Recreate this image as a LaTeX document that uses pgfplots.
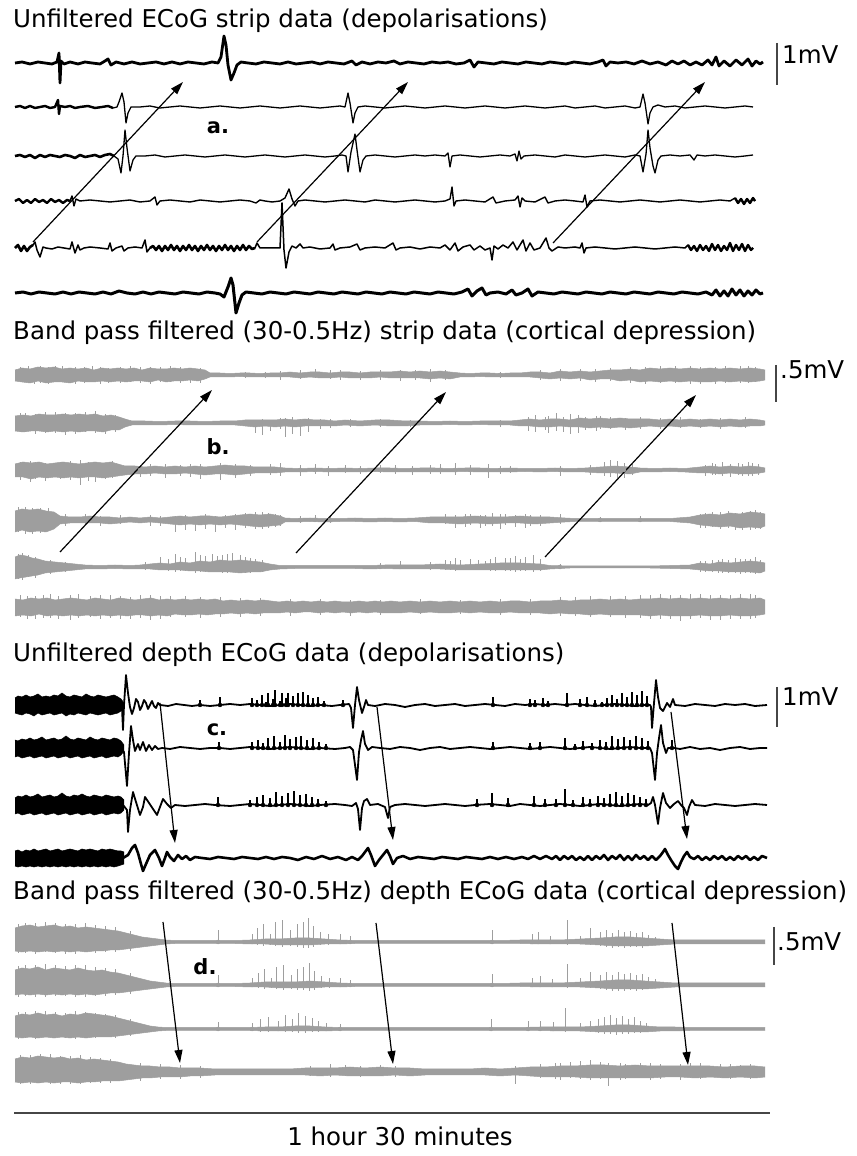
\documentclass[border=0pt]{standalone}
\usepackage{fontspec}
\setmainfont{DejaVu Sans}
\usepackage{pgfplots}
\pgfplotsset{compat=1.18}
\usepackage{pgfplotstable}
\usepgfplotslibrary{fillbetween}
\usetikzlibrary{arrows.meta}
\definecolor{tg}{RGB}{158,158,158}
\definecolor{barc}{RGB}{70,70,70}
\newcommand{\fs}{\fontsize{24.5bp}{29bp}\selectfont}
\newcommand{\fl}{\fontsize{21bp}{25bp}\selectfont\bfseries}

% ---------- panel a (unfiltered strip) ----------
\pgfplotstableread[row sep=\\]{x y\\
15 0\\22 1\\30 -1\\38 1\\45 0\\52 -1\\57 1\\59 10\\60 -20\\61 2\\64 -1\\70 1\\78 -1\\85 1\\92 0\\100 -1\\105 2\\108 4\\111 -2\\116 1\\124 -1\\132 1\\140 -1\\148 0\\156 1\\164 -1\\172 1\\180 -1\\188 1\\196 0\\204 -1\\212 1\\218 0\\221 6\\224 27\\226 18\\228 -2\\231 -17\\234 -10\\237 -2\\241 1\\248 0\\256 -1\\264 1\\272 0\\280 -1\\288 1\\296 -1\\304 0\\312 1\\320 -1\\328 1\\336 0\\344 -1\\352 2\\356 -2\\362 1\\370 -1\\378 1\\386 0\\394 2\\400 -1\\408 1\\416 0\\424 -1\\432 1\\440 0\\448 1\\456 -1\\464 0\\470 3\\474 -4\\478 1\\486 0\\494 -1\\502 1\\510 0\\518 -1\\526 1\\534 0\\542 -1\\550 1\\558 0\\566 -1\\574 1\\582 0\\590 -1\\598 1\\603 3\\606 -3\\610 1\\618 0\\626 1\\634 -1\\642 2\\650 -1\\658 1\\666 -2\\672 2\\678 -1\\684 2\\690 -2\\696 1\\702 -2\\708 3\\712 -2\\716 6\\719 -3\\724 2\\730 -3\\736 3\\742 -2\\748 4\\752 -3\\756 2\\760 -1\\763 1\\
}\aone
\pgfplotstableread[row sep=\\]{x y\\
15 0\\20 1\\25 -1\\30 1\\35 -1\\40 0\\45 1\\50 -1\\55 0\\58 7\\59 -7\\60 1\\65 0\\70 1\\75 -1\\80 0\\88 1\\95 -1\\102 0\\108 1\\113 -1\\117 0\\119 5\\122 14\\124 5\\126 -16\\128 -6\\131 0\\140 0\\150 1\\160 -1\\170 0\\180 1\\190 0\\200 -1\\210 0\\220 1\\230 0\\240 -1\\250 0\\260 1\\270 0\\280 -1\\290 0\\300 1\\310 0\\320 -1\\330 0\\340 1\\345 0\\348 14\\350 4\\353 -16\\355 -6\\358 0\\365 1\\375 0\\385 -1\\395 0\\405 1\\415 0\\425 -1\\435 0\\445 1\\455 0\\465 -1\\475 0\\485 1\\495 0\\505 -1\\515 0\\525 1\\535 0\\545 -1\\555 0\\565 1\\575 -1\\585 0\\595 1\\605 -1\\615 0\\625 1\\635 -1\\640 0\\643 13\\645 4\\648 -17\\650 -6\\653 0\\658 2\\665 0\\675 1\\685 -1\\695 0\\705 1\\715 0\\725 -1\\735 0\\745 1\\753 0\\
}\atwo
\pgfplotstableread[row sep=\\]{x y\\
15 0\\20 1\\25 -1\\30 1\\35 -2\\40 1\\45 -1\\50 1\\55 0\\60 -1\\65 1\\70 0\\75 -2\\80 1\\85 -1\\90 0\\95 1\\100 -1\\105 1\\110 2\\114 0\\118 -3\\121 -17\\123 0\\125 26\\127 8\\130 -15\\133 -4\\136 0\\145 0\\155 1\\165 -1\\175 0\\185 1\\195 0\\205 -1\\215 0\\225 1\\235 0\\245 -1\\255 0\\265 1\\275 0\\285 -1\\295 0\\305 1\\315 0\\325 -1\\335 0\\342 1\\346 0\\348 -16\\351 4\\355 22\\357 6\\360 -16\\363 -4\\366 0\\375 1\\385 0\\395 -1\\405 0\\415 1\\425 0\\435 1\\445 0\\448 3\\450 -11\\452 0\\460 1\\470 0\\480 -1\\490 0\\500 1\\510 0\\515 2\\517 -5\\519 5\\521 -3\\524 0\\535 1\\545 0\\555 -1\\565 1\\575 0\\585 -1\\595 0\\605 1\\615 0\\625 -1\\635 1\\640 0\\643 -16\\646 2\\648 26\\650 8\\653 -10\\655 -17\\658 -4\\661 0\\670 1\\680 0\\690 1\\694 -4\\697 1\\705 0\\715 1\\725 0\\735 -1\\745 0\\753 1\\
}\athree
\pgfplotstableread[row sep=\\]{x y\\
15 0\\19 2\\23 -2\\27 1\\31 -2\\35 2\\39 -1\\43 1\\47 -2\\51 2\\55 -1\\59 1\\63 -2\\67 1\\70 0\\72 5\\74 -5\\76 2\\80 0\\90 1\\100 0\\110 -1\\120 0\\130 1\\140 -1\\150 0\\155 4\\157 -4\\160 0\\170 1\\180 0\\190 -1\\200 1\\210 0\\220 -1\\230 0\\240 1\\250 0\\256 -2\\260 1\\265 0\\272 -1\\280 0\\285 3\\289 12\\292 2\\295 -5\\298 0\\305 1\\315 0\\325 -1\\335 0\\345 1\\355 0\\365 -1\\375 1\\385 0\\395 -1\\405 0\\415 1\\425 0\\435 -1\\445 0\\450 2\\452 14\\454 -5\\456 0\\465 1\\475 0\\485 -1\\493 4\\496 -2\\505 0\\515 1\\518 5\\520 -6\\522 3\\525 0\\535 -1\\545 4\\548 -2\\555 0\\565 1\\575 0\\583 -1\\585 6\\587 -6\\590 0\\600 1\\610 0\\620 -1\\630 0\\640 1\\650 0\\660 -1\\670 0\\680 1\\690 0\\700 -1\\710 0\\720 1\\730 0\\735 3\\738 -2\\741 2\\744 -3\\747 2\\750 -2\\753 3\\755 0\\
}\afour
\pgfplotstableread[row sep=\\]{x y\\
15 0\\18 3\\21 -3\\24 2\\27 -3\\30 1\\33 3\\35 6\\37 -2\\40 -9\\43 1\\46 0\\52 -1\\58 1\\64 0\\70 -1\\72 6\\75 -5\\78 3\\80 -2\\84 0\\90 1\\100 0\\108 -1\\110 5\\112 -3\\116 0\\122 2\\124 -3\\128 0\\135 1\\142 0\\145 8\\147 -4\\150 0\\153 2\\156 -2\\159 2\\162 -3\\165 2\\168 -2\\171 3\\174 -2\\177 2\\180 -3\\183 2\\186 -2\\189 3\\192 -2\\195 2\\198 -3\\201 2\\204 -2\\207 3\\210 -2\\213 2\\216 -3\\219 2\\222 -2\\225 3\\228 -2\\231 2\\234 -3\\237 2\\240 -2\\243 3\\246 -2\\249 2\\252 -1\\255 0\\257 5\\260 0\\270 0\\280 0\\282 45\\284 -2\\286 -20\\289 -4\\292 2\\296 0\\300 4\\303 0\\310 1\\320 -1\\330 0\\333 4\\335 -2\\340 0\\350 1\\357 4\\360 -2\\365 0\\375 1\\385 0\\393 5\\396 -2\\400 0\\410 1\\420 -1\\430 1\\440 0\\445 3\\450 -2\\455 5\\458 -3\\463 1\\470 3\\474 -2\\480 2\\485 -2\\490 0\\492 -12\\494 2\\498 -1\\503 3\\508 0\\513 6\\517 -2\\523 8\\526 -3\\530 5\\534 -2\\540 0\\546 10\\549 0\\552 -3\\558 1\\565 0\\575 1\\580 0\\582 5\\584 -5\\586 0\\595 1\\605 0\\615 -1\\625 0\\635 1\\645 0\\655 -1\\665 0\\675 1\\685 0\\688 3\\691 -2\\694 2\\697 -3\\700 3\\703 -2\\706 2\\709 -3\\712 4\\715 -2\\718 3\\721 -3\\724 2\\727 -2\\730 5\\733 -3\\736 3\\739 -2\\742 4\\745 -3\\748 3\\751 -2\\753 0\\
}\afive
\pgfplotstableread[row sep=\\]{x y\\
15 0\\23 1\\31 -1\\39 1\\47 0\\55 -1\\63 1\\71 -1\\79 1\\87 0\\95 -1\\103 1\\111 -1\\119 2\\127 0\\135 -1\\143 1\\151 -1\\159 1\\167 0\\175 -1\\183 1\\191 0\\199 -1\\207 1\\215 0\\220 -1\\224 -4\\228 6\\231 15\\233 8\\236 -20\\239 -10\\242 -2\\246 1\\254 0\\262 -1\\270 1\\278 0\\286 -1\\294 1\\302 0\\310 -1\\318 1\\326 0\\334 -1\\342 1\\350 0\\358 -1\\366 1\\374 0\\382 -1\\390 1\\398 0\\406 -1\\414 1\\422 0\\430 -1\\438 1\\446 0\\454 -1\\462 1\\468 4\\472 -3\\477 2\\482 5\\486 -2\\490 0\\498 1\\506 -1\\512 3\\516 -2\\522 0\\528 4\\532 -3\\538 1\\546 0\\554 -1\\562 1\\570 0\\578 -1\\586 1\\594 0\\602 -1\\610 1\\618 0\\626 -1\\634 1\\642 0\\650 -1\\658 1\\666 0\\674 -1\\682 1\\690 0\\698 -1\\706 1\\712 -2\\716 3\\720 -3\\724 2\\728 -3\\732 4\\736 -2\\740 3\\744 -3\\748 2\\752 -2\\756 3\\760 -1\\763 0\\
}\asix

% ---------- panel b (band pass strip) ----------
\pgfplotstableread[row sep=\\]{x u l\\
15 5 -6\\22 7 -7\\30 6 -8\\38 8 -6\\46 7 -8\\54 8 -7\\62 6 -7\\70 7 -8\\78 6 -6\\86 7 -7\\94 5 -7\\102 7 -6\\110 6 -7\\118 7 -6\\126 6 -7\\134 7 -6\\142 5 -6\\150 7 -7\\158 6 -5\\166 6 -7\\174 7 -6\\182 6 -6\\190 7 -5\\198 6 -6\\205 5 -4\\210 2 -2\\220 2 -2\\230 1.5 -2\\240 2 -1.5\\250 2 -2\\260 1.5 -2\\270 2 -2\\280 2 -2\\290 3 -2\\300 2 -3\\310 3 -2\\320 3 -3\\330 2 -3\\340 3 -2\\350 3 -3\\360 2 -3\\370 3 -3\\380 3 -2\\390 3 -3\\400 4 -3\\410 3 -3\\420 4 -3\\430 3 -4\\440 4 -3\\450 3 -4\\460 2 -2\\470 1.5 -2\\480 2 -1.5\\490 2 -2\\500 1.5 -2\\510 2 -2\\520 2 -2\\530 3 -2\\540 3 -3\\550 2 -4\\560 4 -3\\570 3 -4\\580 4 -3\\590 3 -5\\600 4 -4\\610 5 -4\\620 5 -6\\630 6 -5\\640 5 -7\\650 7 -6\\660 6 -7\\670 7 -6\\680 6 -7\\690 7 -6\\700 6 -7\\710 7 -7\\720 6 -6\\730 7 -7\\740 6 -6\\750 7 -7\\760 6 -6\\765 5 -5\\
}\bone
\pgfplotstableread[row sep=\\]{x p m\\
20 8 7\\28 9 8\\34 7 9\\40 9 8\\48 8 9\\55 9 6\\62 9 7\\68 7 8\\75 8 9\\84 8 8\\92 9 7\\100 8 9\\108 7 8\\120 8 8\\130 9 7\\140 8 8\\150 8 9\\160 8 7\\170 9 7\\180 8 8\\190 7 8\\200 7 8\\245 3 3\\265 3 3\\280 4 5\\300 5 4\\315 6 3\\330 5 4\\340 5 5\\360 4 5\\380 5 5\\400 5 6\\415 5 5\\430 6 7\\445 5 5\\500 3 3\\540 5 5\\560 6 6\\580 6 6\\595 6 7\\610 7 6\\630 8 8\\645 8 9\\660 9 8\\675 9 8\\690 9 9\\700 8 9\\715 8 9\\725 9 8\\740 9 8\\748 9 8\\755 8 7\\
}\bones
\pgfplotstableread[row sep=\\]{x u l\\
15 7 -8\\23 8 -9\\31 7 -8\\39 9 -8\\47 8 -9\\55 8 -8\\63 9 -9\\71 8 -8\\79 9 -9\\87 8 -8\\95 9 -8\\103 7 -9\\111 8 -7\\119 6 -7\\125 4 -4\\132 2 -2\\145 2 -2\\160 1.5 -2\\175 2 -1.5\\190 2 -2\\205 1.5 -2\\220 2 -2\\235 2 -2\\245 3 -3\\255 3 -4\\265 3 -3\\275 3 -4\\285 4 -3\\295 3 -4\\305 4 -3\\315 3 -3\\325 3 -3\\335 2 -3\\345 3 -2\\360 2 -3\\375 3 -2\\390 3 -3\\405 2 -3\\420 2 -2\\435 1.5 -2\\450 2 -1.5\\465 1.5 -2\\480 2 -1.5\\495 2 -2\\510 2 -2\\520 3 -3\\530 4 -3\\540 3 -4\\550 4 -4\\560 4 -3\\570 3 -4\\580 5 -4\\590 4 -5\\600 5 -4\\610 4 -5\\620 5 -4\\630 4 -5\\640 4 -4\\650 4 -3\\660 3 -4\\670 4 -3\\680 3 -4\\690 4 -3\\700 3 -4\\710 4 -3\\720 3 -4\\730 4 -3\\740 3 -4\\750 4 -3\\760 3 -3\\765 2 -2\\
}\btwo
\pgfplotstableread[row sep=\\]{x p m\\
20 10 9\\25 10 9\\35 9 11\\45 11 10\\55 11 10\\65 10 12\\75 10 11\\85 11 9\\95 12 10\\105 9 11\\115 8 9\\255 3 10\\262 4 12\\270 3 8\\280 5 6\\285 5 14\\292 6 11\\300 4 13\\308 5 9\\320 4 6\\330 4 5\\350 4 4\\380 4 4\\410 3 4\\500 3 4\\528 6 8\\535 8 9\\545 6 7\\548 7 10\\556 10 8\\563 6 9\\570 9 11\\578 8 10\\585 6 7\\596 7 8\\600 7 6\\610 6 6\\625 5 7\\640 6 6\\660 5 6\\680 6 5\\700 4 5\\720 5 6\\745 6 5\\
}\btwos
\pgfplotstableread[row sep=\\]{x u l\\
15 6 -7\\23 8 -7\\31 7 -9\\39 8 -7\\47 6 -8\\55 7 -7\\63 8 -8\\71 7 -7\\79 6 -8\\87 7 -7\\95 8 -7\\103 7 -8\\111 8 -7\\118 6 -6\\125 4 -5\\135 4 -4\\145 3 -4\\155 4 -3\\165 3 -4\\175 4 -4\\185 3 -3\\195 4 -4\\205 3 -5\\215 4 -4\\225 5 -4\\235 4 -5\\245 4 -4\\255 3 -3\\265 3 -3\\275 3 -3\\285 2 -2\\300 1.5 -2\\315 2 -1.5\\330 1.5 -2\\345 2 -2\\360 1.5 -2\\375 2 -1.5\\390 2 -2\\405 1.5 -2\\420 2 -2\\435 2 -2\\450 1.5 -2\\465 2 -1.5\\480 2 -2\\495 1.5 -2\\510 2 -2\\525 1.5 -1.5\\540 1.5 -2\\555 2 -1.5\\570 1.5 -2\\585 2 -2\\600 3 -3\\615 4 -3\\630 3 -4\\640 2 -2\\655 1.5 -2\\670 2 -1.5\\685 1.5 -2\\700 3 -3\\710 4 -3\\720 3 -4\\730 4 -3\\740 3 -4\\750 4 -4\\760 3 -3\\765 2 -2\\
}\bthree
\pgfplotstableread[row sep=\\]{x p m\\
20 8 10\\30 9 12\\35 8 9\\45 7 11\\60 8 9\\70 9 10\\80 10 15\\88 8 11\\95 7 12\\105 6 9\\112 9 8\\140 5 7\\150 6 6\\165 6 8\\180 5 6\\190 6 7\\200 6 9\\220 7 10\\235 6 8\\250 5 6\\270 6 5\\280 7 6\\300 5 6\\315 6 4\\328 4 6\\345 5 3\\360 4 4\\380 5 3\\395 5 4\\412 4 5\\430 5 4\\440 6 4\\455 7 5\\470 5 5\\488 6 8\\500 4 4\\510 4 3\\560 4 6\\590 5 5\\604 8 6\\610 10 7\\617 9 8\\624 7 8\\632 6 5\\705 5 6\\712 7 5\\715 6 5\\722 8 6\\730 6 7\\738 7 5\\742 6 6\\748 8 6\\752 7 6\\758 6 5\\
}\bthrees
\pgfplotstableread[row sep=\\]{x u l\\
15 9 -12\\22 11 -10\\30 10 -12\\38 11 -11\\46 9 -12\\54 8 -9\\60 4 -4\\70 3 -3\\80 3 -3\\90 4 -3\\100 3 -3\\110 3 -4\\120 2 -3\\130 3 -2\\140 2 -3\\150 3 -2\\160 2 -3\\170 3 -4\\180 4 -5\\190 3 -4\\200 4 -5\\210 4 -4\\220 3 -5\\230 4 -4\\240 5 -5\\250 6 -6\\260 5 -7\\270 6 -6\\280 4 -5\\285 2 -2\\295 1.5 -2\\310 2 -1.5\\325 1.5 -2\\340 1.5 -1.5\\355 2 -1.5\\370 1.5 -2\\385 2 -1.5\\400 1.5 -2\\415 2 -1.5\\430 3 -3\\445 3 -3\\460 3 -4\\475 4 -3\\490 3 -4\\505 3 -3\\520 4 -3\\535 3 -4\\550 3 -3\\565 2 -2\\575 1.5 -1.5\\590 1.5 -1.5\\610 1.5 -1.5\\630 1.5 -1.5\\650 1.5 -1.5\\670 1.5 -1.5\\690 3 -3\\700 5 -5\\710 6 -6\\720 5 -7\\730 7 -6\\740 6 -8\\750 8 -7\\760 7 -8\\765 6 -6\\
}\bfour
\pgfplotstableread[row sep=\\]{x p m\\
18 13 12\\25 13 14\\32 12 14\\40 12 13\\48 12 11\\65 6 6\\85 6 5\\100 4 6\\120 5 4\\150 5 6\\160 4 6\\175 4 12\\185 5 10\\195 3 11\\205 6 9\\215 4 12\\225 5 8\\235 6 10\\245 7 8\\255 8 9\\262 8 9\\268 7 8\\275 6 7\\280 5 6\\300 4 3\\315 5 2\\330 5 3\\445 6 4\\455 5 8\\465 6 7\\470 6 5\\480 5 8\\485 5 6\\492 7 6\\500 6 9\\505 6 5\\515 5 7\\525 6 8\\530 5 6\\540 5 6\\560 6 4\\600 3 2\\640 4 2\\700 6 8\\705 7 8\\712 8 7\\720 8 9\\728 9 8\\735 7 10\\742 8 10\\750 9 10\\755 10 9\\760 8 9\\
}\bfours
\pgfplotstableread[row sep=\\]{x u l\\
15 10 -12\\20 12 -11\\26 11 -10\\32 9 -9\\38 8 -8\\45 6 -6\\55 5 -5\\65 4 -4\\75 3 -3\\85 2 -2\\100 1.5 -2\\115 2 -1.5\\130 1.5 -2\\140 2 -2\\150 3 -2\\160 4 -3\\170 3 -3\\180 5 -3\\190 4 -4\\200 6 -4\\210 5 -5\\220 7 -5\\230 6 -5\\240 7 -6\\250 6 -5\\260 5 -5\\270 3 -3\\280 1.5 -2\\295 1.5 -1.5\\310 1.5 -1.5\\325 1.5 -1.5\\340 1.5 -1.5\\355 1.5 -1.5\\370 1.5 -2\\385 2 -1.5\\400 2 -2\\420 2 -2\\440 3 -2\\460 2 -3\\480 3 -3\\500 4 -3\\520 4 -3\\540 3 -3\\550 1.5 -2\\570 1 -1\\590 1 -1\\610 1 -1\\630 1 -1\\650 1 -1\\670 1.5 -1.5\\690 2 -2\\700 4 -3\\710 3 -4\\720 5 -4\\730 4 -5\\740 5 -5\\750 6 -5\\760 5 -6\\765 4 -4\\
}\bfive
\pgfplotstableread[row sep=\\]{x p m\\
18 13 12\\22 14 13\\28 12 10\\35 10 11\\50 7 7\\65 5 5\\145 5 3\\160 10 3\\168 8 4\\175 13 5\\180 10 4\\185 9 4\\195 15 6\\200 12 5\\205 11 5\\212 13 5\\217 11 5\\222 12 6\\227 13 6\\232 14 5\\240 12 5\\245 10 6\\250 9 6\\255 8 5\\262 7 5\\380 4 2\\400 6 2\\430 5 3\\445 7 3\\450 6 3\\455 9 4\\460 7 3\\470 8 3\\478 7 3\\485 6 3\\490 8 4\\495 10 4\\505 9 4\\510 9 4\\515 11 5\\520 8 4\\525 10 4\\533 12 5\\540 8 4\\560 3 2\\700 6 5\\705 6 5\\712 7 5\\718 7 6\\722 8 6\\728 7 6\\735 9 6\\740 8 7\\745 8 6\\750 8 6\\755 10 7\\760 7 6\\
}\bfives
\pgfplotstableread[row sep=\\]{x u l\\
15 8 -9\\23 7 -8\\31 9 -9\\39 8 -7\\47 9 -9\\55 7 -8\\63 8 -9\\71 9 -8\\79 8 -9\\87 7 -8\\95 9 -9\\103 8 -8\\111 7 -9\\119 9 -8\\127 8 -9\\135 7 -8\\143 8 -8\\151 9 -9\\159 7 -8\\167 8 -9\\175 7 -7\\183 8 -8\\191 7 -8\\199 8 -7\\207 7 -8\\215 8 -7\\223 6 -7\\231 7 -6\\239 6 -7\\247 7 -6\\255 6 -7\\263 7 -6\\271 6 -6\\279 5 -6\\287 6 -5\\295 5 -6\\303 6 -5\\311 5 -5\\319 6 -6\\327 5 -5\\335 6 -6\\343 5 -5\\351 5 -6\\359 6 -5\\367 5 -6\\375 6 -5\\383 5 -6\\391 6 -6\\400 5 -6\\410 6 -5\\420 5 -6\\430 6 -5\\440 5 -6\\450 6 -6\\460 5 -5\\470 6 -6\\480 5 -5\\490 6 -6\\500 5 -6\\510 6 -5\\520 6 -6\\530 5 -6\\540 6 -6\\550 6 -7\\560 7 -6\\570 6 -7\\580 7 -7\\590 7 -8\\600 8 -7\\610 7 -8\\620 8 -8\\630 7 -8\\640 8 -8\\650 8 -9\\660 9 -8\\670 8 -9\\680 9 -9\\690 8 -9\\700 9 -8\\710 8 -9\\720 9 -9\\730 8 -8\\740 9 -9\\750 8 -9\\760 9 -8\\765 7 -7\\
}\bsix
\pgfplotstableread[row sep=\\]{x p m\\
20 12 10\\27 11 12\\35 11 12\\43 12 11\\50 13 11\\58 11 12\\70 12 13\\78 13 11\\90 11 10\\100 12 12\\110 12 11\\120 11 12\\130 10 12\\140 12 11\\150 12 13\\160 11 12\\170 11 10\\185 11 10\\200 10 11\\220 10 10\\240 9 10\\260 9 9\\290 8 9\\320 8 8\\350 7 9\\380 7 8\\420 8 7\\460 7 7\\500 8 8\\530 8 8\\560 10 9\\575 10 9\\590 11 10\\610 11 10\\625 11 11\\640 12 11\\650 12 12\\660 13 12\\670 12 12\\680 12 14\\690 13 12\\700 13 11\\710 12 13\\720 12 13\\730 12 12\\740 13 12\\750 13 12\\755 12 11\\
}\bsixs

% ---------- panel c (unfiltered depth) ----------
\pgfplotstableread[row sep=\\]{x u1 l1 u2 l2 u3 l3 u4 l4\\
15 7 -8 8 -9 7 -9 7 -8\\18 9 -9 7 -8 9 -8 8 -9\\22 8 -10 9 -10 8 -10 6 -8\\26 10 -8 8 -9 10 -9 8 -9\\30 8 -9 10 -8 8 -8 7 -8\\34 9 -11 8 -10 9 -10 9 -9\\38 11 -8 9 -9 11 -9 7 -8\\42 8 -10 11 -8 8 -8 8 -9\\46 9 -9 8 -10 9 -10 9 -8\\50 8 -8 9 -9 10 -9 7 -9\\54 10 -10 10 -8 8 -8 8 -8\\58 9 -9 8 -10 9 -10 9 -9\\62 12 -8 9 -9 12 -9 7 -8\\66 9 -11 12 -8 9 -8 8 -9\\70 8 -9 9 -10 8 -10 9 -8\\74 10 -10 8 -9 10 -9 8 -9\\78 9 -8 10 -8 9 -8 7 -8\\82 8 -9 9 -10 11 -10 9 -9\\86 11 -10 8 -9 9 -9 8 -8\\90 9 -8 11 -8 8 -8 9 -9\\94 8 -9 9 -10 10 -10 8 -8\\98 10 -10 8 -9 9 -9 7 -9\\102 9 -9 10 -8 8 -8 9 -8\\106 8 -8 9 -10 10 -10 8 -9\\110 9 -10 8 -9 9 -9 9 -8\\114 10 -9 10 -8 8 -8 8 -9\\118 8 -8 9 -9 9 -9 7 -8\\121 6 -6 7 -7 8 -8 7 -7\\124 2 -2 3 -3 5 -5 6 -6\\
}\cband
\pgfplotstableread[row sep=\\]{x y\\
120 0\\122 -3\\123 -25\\124 0\\126 30\\128 12\\130 -2\\132 -9\\134 -3\\136 6\\138 3\\140 -5\\142 -1\\144 5\\146 2\\148 -4\\150 0\\152 4\\154 -1\\156 -3\\158 2\\160 0\\168 -1\\176 1\\184 0\\192 -1\\200 0\\210 -1\\220 0\\230 1\\240 0\\250 1\\260 0\\270 -1\\280 0\\290 1\\300 0\\310 -1\\320 0\\332 -1\\340 0\\349 1\\351 -3\\353 -23\\355 0\\357 18\\359 5\\362 -8\\364 -2\\366 5\\368 0\\375 -1\\385 1\\395 0\\405 -2\\415 0\\425 1\\435 -1\\445 0\\455 1\\465 -1\\475 0\\485 1\\495 0\\505 -1\\515 1\\525 0\\535 1\\545 0\\555 1\\565 0\\575 1\\585 0\\595 -1\\605 0\\615 1\\625 0\\635 -1\\645 0\\650 0\\651 -2\\652 -23\\654 2\\656 25\\658 8\\660 -3\\663 -6\\667 2\\670 -2\\673 6\\675 0\\685 -1\\695 1\\705 0\\715 -1\\725 1\\735 0\\745 1\\755 -1\\767 0\\
}\cone
\pgfplotstableread[row sep=\\]{x p m\\
200 5 1\\220 8 1\\252 7 1\\257 5 1\\262 10 1\\266 3 1\\268 12 1\\273 6 1\\275 15 1\\280 4 1\\282 12 1\\286 7 1\\288 12 1\\293 9 1\\298 12 1\\303 13 1\\308 10 1\\313 7 1\\318 8 1\\324 4 1\\343 5 1\\493 8 1\\530 6 1\\535 5 1\\543 7 1\\548 4 1\\567 12 1\\580 6 1\\587 8 1\\595 5 1\\602 3 1\\607 7 1\\612 10 1\\617 6 1\\622 12 1\\627 8 1\\632 13 1\\637 10 1\\642 14 1\\647 9 1\\
}\cones
\pgfplotstableread[row sep=\\]{x y\\
120 0\\124 -4\\127 -38\\129 -5\\131 22\\133 8\\135 -3\\138 4\\140 -2\\143 6\\146 -3\\149 3\\152 -2\\155 2\\158 -1\\162 0\\170 -1\\180 1\\190 0\\200 -1\\210 0\\220 0\\230 -1\\240 0\\250 1\\260 0\\270 -1\\280 0\\290 1\\300 0\\310 -1\\320 0\\335 -1\\345 0\\350 1\\353 -2\\357 -32\\359 -4\\361 8\\363 17\\365 4\\368 -2\\372 1\\380 0\\390 -1\\400 1\\410 0\\420 -2\\430 0\\440 1\\450 -1\\460 0\\470 1\\480 0\\490 -1\\500 0\\510 1\\520 0\\530 -1\\540 0\\550 1\\560 0\\570 -1\\580 0\\590 1\\600 0\\610 -1\\620 0\\630 1\\640 0\\650 0\\652 -5\\655 -32\\657 -5\\659 10\\661 23\\663 5\\666 -5\\668 0\\674 0\\680 -1\\690 1\\700 -1\\710 0\\720 -2\\730 0\\740 1\\750 -1\\760 0\\767 0\\
}\ctwo
\pgfplotstableread[row sep=\\]{x p m\\
219 6 1\\252 6 1\\258 8 1\\263 5 1\\268 10 1\\274 12 1\\280 6 1\\285 13 1\\290 9 1\\296 11 1\\301 12 1\\307 8 1\\313 10 1\\319 6 1\\326 4 1\\493 6 1\\530 5 1\\540 6 1\\565 10 1\\575 4 1\\583 7 1\\592 5 1\\600 8 1\\606 6 1\\612 12 1\\618 9 1\\624 11 1\\630 8 1\\636 12 1\\642 10 1\\648 7 1\\672 8 1\\
}\ctwos
\pgfplotstableread[row sep=\\]{x y\\
123 0\\127 -5\\128 -27\\130 -5\\133 13\\136 3\\140 -10\\143 -2\\145 8\\149 2\\153 -4\\157 -10\\160 -2\\163 6\\167 1\\171 -3\\175 0\\185 -1\\195 0\\205 1\\215 0\\230 -1\\240 0\\250 1\\260 0\\270 -1\\280 0\\290 1\\300 0\\310 -1\\320 0\\335 1\\345 0\\352 -1\\356 2\\358 -4\\360 -25\\362 -3\\364 4\\367 6\\370 0\\378 1\\385 -2\\388 -13\\390 -2\\395 0\\405 1\\415 0\\425 -1\\435 0\\445 1\\455 0\\465 -1\\475 0\\490 1\\500 0\\510 -1\\520 1\\530 0\\540 -1\\550 0\\560 1\\570 0\\580 -1\\590 0\\600 1\\610 0\\620 -1\\630 0\\640 1\\648 0\\651 2\\653 8\\655 0\\658 -19\\660 -3\\663 12\\666 2\\670 -3\\674 1\\678 4\\681 0\\684 -3\\687 -10\\689 -2\\692 5\\695 0\\705 -1\\715 1\\725 0\\735 -1\\745 0\\755 1\\767 0\\
}\cthree
\pgfplotstableread[row sep=\\]{x p m\\
218 8 1\\250 5 1\\257 8 1\\263 10 1\\270 7 1\\276 13 1\\282 9 1\\288 12 1\\294 14 1\\300 10 1\\306 11 1\\312 8 1\\318 6 1\\326 4 1\\477 6 1\\492 12 1\\508 7 1\\534 9 1\\545 6 1\\556 6 1\\565 16 1\\573 5 1\\583 8 1\\590 6 1\\598 9 1\\604 7 1\\610 11 1\\616 13 1\\622 9 1\\628 12 1\\634 10 1\\640 8 1\\646 6 1\\
}\cthrees
\pgfplotstableread[row sep=\\]{x y\\
123 0\\128 3\\132 10\\135 13\\138 5\\141 -6\\143 -13\\146 -6\\150 3\\155 8\\159 0\\162 -8\\165 0\\167 6\\170 1\\174 -3\\178 3\\182 -1\\186 2\\190 -2\\195 1\\202 0\\210 -1\\218 1\\226 0\\234 -1\\242 1\\250 0\\258 -1\\266 1\\274 -1\\282 1\\290 0\\298 -2\\306 1\\314 -1\\322 2\\330 -1\\338 1\\346 -2\\352 1\\358 -2\\362 2\\365 6\\368 10\\371 3\\375 -8\\379 -2\\383 3\\387 8\\390 2\\393 -6\\397 0\\403 2\\410 -1\\418 1\\426 0\\434 -1\\442 1\\450 0\\458 -1\\466 1\\474 0\\482 -1\\490 1\\498 -1\\506 1\\514 -1\\522 1\\528 -1\\534 2\\540 -1\\546 2\\552 -1\\556 2\\560 -2\\564 2\\568 -1\\572 2\\576 -2\\580 1\\584 -2\\588 2\\592 -2\\596 2\\600 -1\\604 3\\608 -2\\612 2\\616 -1\\620 3\\624 -2\\628 2\\632 -2\\636 3\\640 -1\\644 2\\648 -2\\652 2\\656 -2\\660 2\\663 6\\665 9\\668 3\\671 -2\\675 -8\\678 -11\\681 -4\\684 2\\687 6\\690 1\\694 -1\\698 2\\702 -2\\706 1\\710 -2\\714 2\\718 -1\\722 2\\726 -2\\730 1\\734 -2\\738 2\\742 -1\\746 2\\750 -2\\754 1\\758 -2\\762 2\\767 0\\
}\cfour

% ---------- panel d (band pass depth) ----------
\pgfplotstableread[row sep=\\]{x u l\\
15 14 -9\\22 16 -10\\30 17 -9\\38 15 -10\\46 16 -9\\54 17 -10\\62 15 -9\\70 16 -10\\78 14 -9\\86 15 -10\\94 14 -9\\102 13 -9\\110 12 -8\\118 11 -8\\126 9 -7\\134 7 -6\\142 5 -5\\150 4 -4\\158 3 -3\\166 2 -2\\175 1.5 -1.5\\190 1.5 -1.5\\205 1.5 -1.5\\220 1.5 -1.5\\235 1.5 -1.5\\250 2 -2\\265 3 -2\\280 3 -3\\295 4 -3\\310 4 -3\\325 3 -2\\340 2 -2\\355 1.5 -1.5\\370 1.5 -1.5\\385 1.5 -1.5\\400 1.5 -1.5\\420 1.5 -1.5\\440 1.5 -1.5\\460 1.5 -1.5\\480 1.5 -1.5\\500 1.5 -1.5\\520 2 -1.5\\540 2 -2\\560 2 -2\\580 3 -2\\600 4 -3\\615 5 -4\\630 5 -4\\645 4 -4\\660 3 -3\\675 2 -2\\690 2 -2\\705 2 -2\\720 2 -2\\735 2 -2\\750 2 -2\\765 2 -2\\
}\done
\pgfplotstableread[row sep=\\]{x p m\\
18 18 11\\25 19 11\\35 19 12\\45 20 10\\55 19 11\\65 18 12\\75 18 12\\85 19 10\\95 17 11\\105 16 10\\115 15 10\\130 11 9\\218 12 2\\252 8 2\\257 14 3\\263 18 4\\270 8 3\\275 20 4\\282 22 5\\290 12 4\\297 18 5\\303 20 6\\308 24 6\\313 16 5\\320 10 3\\328 8 3\\340 8 2\\350 6 2\\492 12 2\\532 8 2\\538 10 2\\550 6 2\\567 22 3\\580 6 2\\590 14 3\\600 10 4\\606 12 5\\612 9 6\\618 12 5\\624 10 6\\630 11 5\\636 9 5\\642 10 6\\648 7 4\\655 5 3\\
}\dones
\pgfplotstableread[row sep=\\]{x u l\\
15 15 -10\\22 17 -9\\30 16 -10\\38 18 -9\\46 15 -10\\54 17 -9\\62 16 -10\\70 15 -9\\78 17 -10\\86 15 -9\\94 14 -10\\102 15 -9\\110 13 -8\\118 12 -8\\126 10 -7\\134 8 -6\\142 6 -5\\150 4 -4\\158 3 -3\\166 2 -2\\175 1.5 -1.5\\190 1.5 -1.5\\205 1.5 -1.5\\220 1.5 -1.5\\235 1.5 -1.5\\250 2 -2\\265 3 -2\\280 3 -3\\295 3 -3\\310 4 -3\\325 3 -2\\340 2 -2\\355 1.5 -1.5\\370 1.5 -1.5\\385 1.5 -1.5\\400 1.5 -1.5\\420 1.5 -1.5\\440 1.5 -1.5\\460 1.5 -1.5\\480 1.5 -1.5\\500 1.5 -1.5\\520 2 -1.5\\540 2 -2\\560 2 -2\\580 3 -2\\600 4 -3\\615 5 -4\\630 5 -4\\645 4 -4\\660 3 -3\\675 2 -2\\690 2 -2\\705 2 -2\\720 2 -2\\735 2 -2\\750 2 -2\\765 2 -2\\
}\dtwo
\pgfplotstableread[row sep=\\]{x p m\\
18 19 12\\25 20 11\\35 20 12\\45 21 12\\55 20 11\\65 19 11\\75 20 12\\85 20 12\\95 18 11\\105 17 11\\115 16 10\\130 12 9\\218 10 2\\252 7 2\\258 12 3\\264 16 4\\271 7 3\\276 18 4\\283 20 5\\291 10 4\\297 16 5\\303 18 5\\309 22 6\\314 14 5\\321 9 3\\329 7 3\\340 7 2\\350 5 2\\492 11 2\\532 7 2\\540 9 2\\552 6 2\\567 21 3\\580 7 2\\590 13 3\\600 10 4\\606 13 5\\612 10 6\\618 13 6\\624 11 6\\630 12 5\\636 10 6\\642 11 5\\648 8 4\\655 6 3\\
}\dtwos
\pgfplotstableread[row sep=\\]{x u l\\
15 13 -8\\22 15 -9\\30 14 -8\\38 16 -9\\46 14 -8\\54 15 -9\\62 13 -8\\70 15 -9\\78 14 -8\\86 16 -9\\94 15 -8\\102 14 -8\\110 13 -8\\118 11 -7\\126 9 -6\\134 7 -5\\142 5 -4\\150 3 -3\\158 2 -2\\166 1.5 -1.5\\175 1.5 -1.5\\190 1.5 -1.5\\205 1.5 -1.5\\220 1.5 -1.5\\235 1.5 -1.5\\250 1.5 -1.5\\265 2 -2\\280 2 -2\\295 3 -2\\310 3 -2\\325 2 -2\\340 1.5 -1.5\\355 1.5 -1.5\\370 1.5 -1.5\\385 1.5 -1.5\\400 1.5 -1.5\\420 1.5 -1.5\\440 1.5 -1.5\\460 1.5 -1.5\\480 1.5 -1.5\\500 1.5 -1.5\\520 1.5 -1.5\\540 2 -1.5\\560 2 -2\\580 2 -2\\600 3 -3\\615 4 -3\\630 4 -3\\645 3 -3\\660 2 -2\\675 2 -2\\690 1.5 -1.5\\705 1.5 -1.5\\720 1.5 -1.5\\735 1.5 -1.5\\750 1.5 -1.5\\765 1.5 -1.5\\
}\dthree
\pgfplotstableread[row sep=\\]{x p m\\
18 17 10\\25 17 9\\35 18 10\\45 18 8\\55 17 9\\65 16 9\\75 18 10\\85 17 8\\95 16 9\\105 15 8\\115 14 9\\130 10 7\\218 7 2\\252 6 2\\260 10 3\\268 12 3\\278 8 2\\285 14 3\\292 10 3\\298 16 4\\305 13 4\\312 11 3\\318 8 3\\326 6 2\\340 5 2\\491 10 2\\528 8 2\\540 8 2\\553 7 2\\565 21 3\\580 6 2\\590 8 3\\598 10 4\\604 12 5\\610 14 5\\616 11 6\\622 13 5\\628 10 5\\634 12 4\\640 8 4\\646 6 3\\
}\dthrees
\pgfplotstableread[row sep=\\]{x u l\\
15 13 -10\\22 15 -11\\30 14 -10\\38 16 -11\\46 15 -10\\54 14 -11\\62 15 -10\\70 13 -10\\78 14 -11\\86 12 -10\\94 13 -10\\102 12 -9\\110 11 -9\\118 10 -9\\126 8 -8\\134 7 -7\\142 6 -6\\150 6 -6\\160 5 -5\\170 5 -5\\180 4 -5\\190 4 -4\\200 4 -4\\215 3 -3\\230 3 -3\\245 3 -3\\260 3 -3\\275 3 -3\\290 3 -3\\305 4 -3\\320 4 -4\\335 4 -3\\350 5 -4\\365 4 -4\\380 5 -4\\395 4 -3\\410 4 -4\\425 3 -3\\440 3 -3\\455 3 -3\\470 3 -3\\485 4 -3\\500 3 -4\\515 4 -3\\530 5 -4\\545 5 -5\\560 6 -5\\575 6 -5\\590 7 -6\\605 7 -6\\620 6 -6\\635 7 -6\\650 6 -6\\665 6 -5\\680 6 -5\\695 6 -6\\710 6 -5\\725 5 -6\\740 6 -5\\755 6 -6\\765 5 -5\\
}\dfour
\pgfplotstableread[row sep=\\]{x p m\\
20 17 12\\30 17 12\\40 18 11\\50 18 12\\60 16 12\\70 16 12\\80 17 12\\90 15 11\\100 14 11\\110 13 11\\140 9 9\\160 8 7\\180 7 7\\200 6 6\\310 6 4\\330 8 5\\345 7 4\\360 6 5\\380 7 4\\395 6 5\\515 6 12\\540 8 6\\555 9 7\\560 9 8\\570 10 6\\580 11 7\\590 12 8\\600 10 7\\608 9 14\\620 9 8\\625 8 7\\640 9 6\\650 9 8\\660 8 7\\680 8 8\\690 9 6\\700 9 7\\720 8 6\\730 8 7\\740 7 5\\750 8 7\\
}\dfours

% ---------- helpers ----------
\newcommand{\blk}[3]{\addplot[black, line width=#2, line join=round] table[x=x, y expr=\thisrow{y}-#3]{#1};}
\newcommand{\blkr}[4]{\addplot[black, line width=#2, line join=round, restrict x to domain=#4] table[x=x, y expr=\thisrow{y}-#3]{#1};}
\newcommand{\gband}[4]{%
\addplot[#4, line width=0.5bp, name path=#3u] table[x=x, y expr=\thisrow{u}-#2]{#1};
\addplot[#4, line width=0.5bp, name path=#3l] table[x=x, y expr=\thisrow{l}-#2]{#1};
\addplot[fill=#4, draw=none] fill between[of=#3u and #3l];}
\newcommand{\spk}[4]{\addplot[#3, only marks, mark=none, error bars/.cd, y dir=both, y explicit, error mark=none, error bar style={#3, line width=#4}] table[x=x, y expr=-#2, y error plus=p, y error minus=m]{#1};}
\newcommand{\cb}[4]{%
\addplot[black, line width=0.5bp, name path=#4u] table[x=x, y expr=\thisrow{#1}-#3]{\cband};
\addplot[black, line width=0.5bp, name path=#4l] table[x=x, y expr=\thisrow{#2}-#3]{\cband};
\addplot[fill=black, draw=none] fill between[of=#4u and #4l];}

\begin{document}
\begin{tikzpicture}
\begin{axis}[width=856bp, height=1156bp, scale only axis, xmin=0, xmax=856, ymin=-1156, ymax=0, hide axis, clip=false]
\path (axis cs:0,0) rectangle (axis cs:856,-1156);

% panel a
\blk{\aone}{2.8bp}{63}
\blk{\atwo}{1.3bp}{107}
\blkr{\atwo}{2.4bp}{107}{15:116}
\blk{\athree}{1.3bp}{156}
\blkr{\athree}{2.6bp}{156}{15:116}
\blk{\afour}{1.4bp}{201}
\blkr{\afour}{2.4bp}{201}{15:70}
\blkr{\afour}{2.4bp}{201}{733:755}
\blk{\afive}{1.5bp}{248}
\blkr{\afive}{2.6bp}{248}{15:34}
\blkr{\afive}{2.6bp}{248}{150:256}
\blkr{\afive}{2.4bp}{248}{686:753}
\blk{\asix}{3bp}{293}

% panel b
\gband{\bone}{375}{bA}{tg}   \spk{\bones}{375}{tg}{0.9bp}
\gband{\btwo}{423}{bB}{tg}   \spk{\btwos}{423}{tg}{0.9bp}
\gband{\bthree}{470}{bC}{tg} \spk{\bthrees}{470}{tg}{0.9bp}
\gband{\bfour}{520}{bD}{tg}  \spk{\bfours}{520}{tg}{0.9bp}
\gband{\bfive}{567}{bE}{tg}  \spk{\bfives}{567}{tg}{0.9bp}
\gband{\bsix}{607}{bF}{tg}   \spk{\bsixs}{607}{tg}{0.9bp}

% panel c
\cb{u1}{l1}{705}{cA} \blk{\cone}{1.8bp}{705} \spk{\cones}{705}{black}{1.1bp}
\cb{u2}{l2}{748}{cB} \blk{\ctwo}{1.8bp}{748} \spk{\ctwos}{748}{black}{1.1bp}
\cb{u3}{l3}{805}{cC} \blk{\cthree}{1.8bp}{805} \spk{\cthrees}{805}{black}{1.1bp}
\cb{u4}{l4}{858}{cD} \blk{\cfour}{2.6bp}{858}

% panel d
\gband{\done}{942}{dA}{tg}    \spk{\dones}{942}{tg}{0.9bp}
\gband{\dtwo}{985}{dB}{tg}    \spk{\dtwos}{985}{tg}{0.9bp}
\gband{\dthree}{1029}{dC}{tg} \spk{\dthrees}{1029}{tg}{0.9bp}
\gband{\dfour}{1072}{dD}{tg}  \spk{\dfours}{1072}{tg}{0.9bp}

% arrows
\begin{scope}[line width=1.2bp, -{Triangle[length=13bp,width=8bp]}]
\draw (axis cs:33,-242) -- (axis cs:183,-82);
\draw (axis cs:257,-242) -- (axis cs:408,-82);
\draw (axis cs:553,-243) -- (axis cs:705,-82);
\draw (axis cs:60,-552) -- (axis cs:212,-390);
\draw (axis cs:296,-553) -- (axis cs:446,-392);
\draw (axis cs:545,-557) -- (axis cs:696,-395);
\draw (axis cs:160,-703) -- (axis cs:175,-843);
\draw (axis cs:377,-707) -- (axis cs:393,-840);
\draw (axis cs:671,-712) -- (axis cs:687,-839);
\draw (axis cs:163,-922) -- (axis cs:180,-1063);
\draw (axis cs:376,-923) -- (axis cs:393,-1064);
\draw (axis cs:672,-923) -- (axis cs:688,-1065);
\end{scope}

% scale bars
\draw[barc, line width=1.6bp] (axis cs:777,-43) -- (axis cs:777,-85);
\draw[barc, line width=1.6bp] (axis cs:776,-365) -- (axis cs:776,-402);
\draw[barc, line width=1.6bp] (axis cs:777,-687) -- (axis cs:777,-727);
\draw[barc, line width=1.6bp] (axis cs:774,-927) -- (axis cs:774,-965);
\node[anchor=west, inner sep=0pt, font=\fs] at (axis cs:782,-55) {1mV};
\node[anchor=west, inner sep=0pt, font=\fs] at (axis cs:780,-370) {.5mV};
\node[anchor=west, inner sep=0pt, font=\fs] at (axis cs:782,-697) {1mV};
\node[anchor=west, inner sep=0pt, font=\fs] at (axis cs:777,-942) {.5mV};

% titles
\node[anchor=base west, inner sep=0pt, font=\fs] at (axis cs:13,-28) {Unfiltered ECoG strip data (depolarisations)};
\node[anchor=base west, inner sep=0pt, font=\fs] at (axis cs:13,-340) {Band pass filtered (30-0.5Hz) strip data (cortical depression)};
\node[anchor=base west, inner sep=0pt, font=\fs] at (axis cs:13,-662) {Unfiltered depth ECoG data (depolarisations)};
\node[anchor=base west, inner sep=0pt, font=\fs] at (axis cs:13,-900) {Band pass filtered (30-0.5Hz) depth ECoG data (cortical depression)};

% panel letters
\node[font=\fl] at (axis cs:218,-128) {a.};
\node[font=\fl] at (axis cs:218,-447) {b.};
\node[font=\fl] at (axis cs:217,-730) {c.};
\node[font=\fl] at (axis cs:205,-967) {d.};

% time bar
\draw[barc, line width=2bp] (axis cs:14,-1113) -- (axis cs:770,-1113);
\node[anchor=base, inner sep=0pt, font=\fs] at (axis cs:400,-1146) {1 hour 30 minutes};

\end{axis}
\end{tikzpicture}
\end{document}
